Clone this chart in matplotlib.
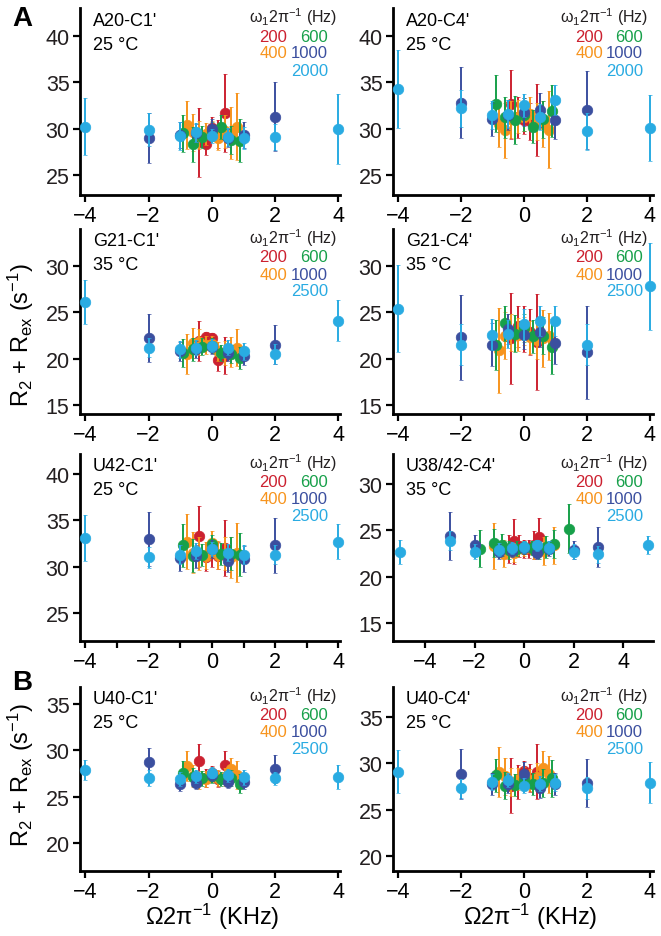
import matplotlib
matplotlib.use('Agg')
import matplotlib.pyplot as plt
from matplotlib.ticker import FixedLocator

plt.rcParams['font.family'] = ['Liberation Sans', 'DejaVu Sans']
plt.rcParams['mathtext.fontset'] = 'custom'
plt.rcParams['mathtext.rm'] = 'Liberation Sans'
plt.rcParams['mathtext.it'] = 'Liberation Sans:italic'
plt.rcParams['mathtext.default'] = 'regular'

# ---------------- data ----------------
POWERS = ['200', '400', '600', '1000', 'hi']
COLORS = {'200': '#cc2130', '400': '#f7941d', '600': '#17a04a',
          '1000': '#3b4f9f', 'hi': '#29abe2'}

OFF_200 = [-0.4, -0.2, 0, 0.2, 0.4]
OFF_400 = [-0.8, -0.6, -0.4, -0.2, 0, 0.2, 0.4, 0.6, 0.8]
OFF_600 = [-0.9, -0.6, -0.3, 0, 0.3, 0.6, 0.9]
OFF_1000 = [-2, -1, -0.5, 0, 0.5, 1, 2]
OFF_HI = [-4, -2, -1, -0.5, 0, 0.5, 1, 2, 4]

U38_OFF_200 = [-0.6, -0.4, -0.2, 0, 0.2, 0.4, 0.6]
U38_OFF_400 = [-1.2, -0.8, -0.4, 0, 0.4, 0.8, 1.2]
U38_OFF_600 = [-1.8, -1.2, -0.9, -0.6, -0.3, 0, 0.3, 0.6, 0.9, 1.2, 1.8]
U38_OFF_1000 = [-3, -2, -1, -0.5, 0, 0.5, 1, 2, 3]
U38_OFF_HI = [-5, -3, -2, -1, -0.5, 0, 0.5, 1, 2, 3, 5]

# A20-C1'
A20C1_R200 = [28.5, 28.3, 30.1, 29.4, 31.7]
A20C1_E200 = [3.7, 1.2, 1.2, 1.5, 4.2]
A20C1_R400 = [30.4, 29.6, 29.3, 29.4, 29.8, 29.0, 29.7, 29.5, 30.2]
A20C1_E400 = [2.6, 2.0, 1.5, 1.2, 1.0, 1.3, 1.8, 2.8, 3.6]
A20C1_R600 = [29.5, 28.3, 29.1, 29.7, 30.2, 28.8, 28.7]
A20C1_E600 = [2.0, 1.9, 1.2, 1.0, 1.3, 1.5, 2.3]
A20C1_R1000 = [28.95, 29.3, 29.5, 30.0, 29.0, 29.3, 31.3]
A20C1_E1000 = [2.7, 1.4, 1.0, 1.0, 1.0, 1.4, 3.7]
A20C1_RHI = [30.2, 29.9, 29.2, 29.6, 29.2, 29.1, 29.0, 29.05, 29.95]
A20C1_EHI = [3.1, 1.8, 1.5, 1.0, 0.8, 1.0, 1.2, 1.4, 3.8]

# A20-C4'
A20C4_R200 = [32.6, 31.2, 30.9, 30.8, 30.9]
A20C4_E200 = [3.7, 2.2, 1.5, 2.0, 3.9]
A20C4_R400 = [30.5, 29.8, 31.0, 31.3, 31.2, 31.6, 30.8, 30.5, 29.9]
A20C4_E400 = [2.5, 3.0, 2.0, 1.8, 1.5, 1.8, 2.0, 2.5, 4.1]
A20C4_R600 = [32.7, 31.2, 30.9, 31.5, 30.2, 31.0, 31.9]
A20C4_E600 = [3.1, 2.2, 2.6, 1.8, 1.8, 2.0, 2.8]
A20C4_R1000 = [32.8, 31.0, 31.5, 31.8, 32.0, 30.9, 32.0]
A20C4_E1000 = [3.8, 1.8, 1.6, 1.5, 1.8, 2.0, 4.2]
A20C4_RHI = [34.25, 32.2, 31.5, 31.6, 32.5, 31.2, 33.1, 29.7, 30.06]
A20C4_EHI = [4.2, 2.0, 1.5, 1.5, 1.2, 1.4, 1.6, 2.0, 3.6]

# G21-C1'
G21C1_R200 = [21.9, 22.3, 22.2, 19.9, 20.3]
G21C1_E200 = [2.2, 0.6, 0.6, 1.2, 2.0]
G21C1_R400 = [20.5, 21.7, 21.8, 21.5, 21.6, 20.8, 20.6, 20.7, 21.2]
G21C1_E400 = [2.2, 1.6, 1.4, 1.0, 0.8, 1.0, 1.3, 1.6, 2.0]
G21C1_R600 = [20.6, 21.0, 21.3, 21.4, 20.6, 20.5, 20.1]
G21C1_E600 = [1.5, 1.2, 0.9, 0.8, 0.9, 1.0, 1.2]
G21C1_R1000 = [22.2, 20.8, 21.0, 21.3, 20.6, 20.3, 21.5]
G21C1_E1000 = [2.6, 1.0, 0.9, 0.8, 0.9, 1.0, 2.1]
G21C1_RHI = [26.1, 21.2, 21.0, 21.2, 21.4, 21.2, 20.8, 20.5, 24.1]
G21C1_EHI = [2.4, 1.0, 0.9, 0.8, 0.7, 0.8, 0.9, 1.1, 2.2]

# G21-C4'
G21C4_R200 = [22.2, 23.5, 23.2, 22.9, 21.8]
G21C4_E200 = [4.9, 2.2, 2.5, 2.5, 5.2]
G21C4_R400 = [20.9, 22.5, 22.8, 22.6, 23.0, 22.3, 22.0, 22.2, 22.4]
G21C4_E400 = [4.6, 2.5, 2.0, 1.8, 1.5, 1.8, 2.0, 3.1, 2.5]
G21C4_R600 = [21.5, 23.8, 22.7, 23.3, 22.4, 22.5, 21.3]
G21C4_E600 = [2.7, 1.9, 2.0, 1.5, 1.8, 2.0, 3.0]
G21C4_R1000 = [22.3, 21.5, 23.2, 22.6, 22.9, 21.7, 20.7]
G21C4_E1000 = [4.6, 2.3, 1.6, 1.5, 1.6, 2.3, 5.0]
G21C4_RHI = [25.4, 21.5, 22.6, 22.7, 23.7, 24.1, 24.1, 21.5, 27.8]
G21C4_EHI = [4.7, 2.2, 1.7, 1.5, 1.7, 1.6, 1.6, 2.2, 4.7]

# U42-C1'
U42C1_R200 = [33.3, 31.0, 31.5, 31.2, 32.0]
U42C1_E200 = [3.3, 1.5, 1.5, 1.5, 3.0]
U42C1_R400 = [32.7, 31.5, 31.4, 31.2, 32.6, 31.3, 31.4, 31.0, 31.5]
U42C1_E400 = [3.0, 2.2, 1.8, 1.5, 1.2, 1.5, 1.8, 2.2, 3.2]
U42C1_R600 = [32.3, 31.2, 31.3, 32.4, 31.4, 31.4, 31.3]
U42C1_E600 = [2.3, 1.8, 1.2, 1.0, 1.2, 1.8, 2.3]
U42C1_R1000 = [33.0, 30.9, 31.1, 31.9, 30.6, 30.8, 32.3]
U42C1_E1000 = [2.9, 1.4, 1.2, 1.0, 1.2, 1.4, 3.0]
U42C1_RHI = [33.1, 31.0, 31.3, 31.7, 31.9, 31.5, 31.3, 31.3, 32.7]
U42C1_EHI = [2.5, 1.1, 1.0, 0.9, 0.8, 0.9, 1.0, 1.0, 1.9]

# U38/42-C4'
U38C4_R200 = [23.0, 23.8, 23.3, 23.0, 23.0, 23.4, 24.3]
U38C4_E200 = [1.5, 2.4, 1.2, 1.0, 1.0, 1.5, 2.0]
U38C4_R400 = [23.3, 22.5, 22.6, 23.0, 22.9, 22.8, 23.4]
U38C4_E400 = [2.5, 1.5, 1.0, 0.8, 1.0, 1.5, 2.0]
U38C4_R600 = [23.0, 23.6, 23.4, 22.9, 23.0, 23.2, 23.1, 22.9, 23.2, 23.5, 25.2]
U38C4_E600 = [2.0, 1.5, 1.2, 1.0, 0.8, 0.7, 0.8, 1.0, 1.2, 1.5, 2.6]
U38C4_R1000 = [24.35, 23.4, 22.7, 22.8, 23.1, 22.6, 23.0, 22.9, 23.2]
U38C4_E1000 = [2.6, 1.1, 0.8, 0.7, 0.6, 0.7, 0.8, 1.0, 2.2]
U38C4_RHI = [22.7, 23.9, 22.7, 22.9, 23.1, 23.2, 23.4, 23.1, 22.7, 22.4, 23.4]
U38C4_EHI = [1.3, 1.0, 0.8, 0.7, 0.6, 0.6, 0.6, 0.7, 0.8, 0.9, 1.0]

# U40-C1'
U40C1_R200 = [28.9, 27.0, 27.5, 26.9, 28.4]
U40C1_E200 = [1.8, 1.0, 0.8, 0.9, 1.5]
U40C1_R400 = [28.3, 27.2, 26.8, 26.9, 27.4, 27.0, 27.1, 28.0, 27.3]
U40C1_E400 = [1.6, 1.2, 1.0, 0.9, 0.8, 0.9, 1.0, 1.2, 1.5]
U40C1_R600 = [27.6, 27.1, 27.0, 27.2, 26.9, 27.0, 26.4]
U40C1_E600 = [1.2, 1.0, 0.8, 0.7, 0.8, 0.9, 1.0]
U40C1_R1000 = [28.7, 26.4, 26.5, 27.3, 26.6, 26.6, 28.0]
U40C1_E1000 = [1.6, 0.8, 0.7, 0.6, 0.7, 0.8, 1.5]
U40C1_RHI = [27.85, 27.0, 26.9, 27.2, 27.6, 27.3, 27.1, 27.0, 27.1]
U40C1_EHI = [1.1, 0.9, 0.8, 0.7, 0.6, 0.7, 0.8, 0.7, 1.3]

# U40-C4'
U40C4_R200 = [27.6, 28.0, 29.2, 28.4, 29.1]
U40C4_E200 = [3.0, 1.8, 1.0, 1.5, 3.0]
U40C4_R400 = [29.1, 28.6, 28.0, 28.3, 28.6, 28.2, 28.5, 29.5, 28.8]
U40C4_E400 = [2.7, 2.0, 1.5, 1.2, 1.0, 1.2, 1.5, 1.8, 2.0]
U40C4_R600 = [28.7, 27.6, 27.7, 28.3, 27.8, 27.9, 28.4]
U40C4_E600 = [1.8, 1.5, 1.2, 1.0, 1.2, 1.5, 2.0]
U40C4_R1000 = [28.8, 27.8, 27.8, 28.8, 27.3, 27.8, 27.9]
U40C4_E1000 = [2.7, 1.2, 1.0, 1.3, 1.0, 1.2, 2.6]
U40C4_RHI = [29.1, 27.3, 28.0, 28.2, 27.6, 27.8, 27.9, 27.3, 27.9]
U40C4_EHI = [2.3, 1.0, 0.9, 0.8, 0.8, 0.8, 0.9, 1.2, 2.2]

NAMES = ["A20-C1'", "A20-C4'", "G21-C1'", "G21-C4'",
         "U42-C1'", "U38/42-C4'", "U40-C1'", "U40-C4'"]
TEMPS = ["25 °C", "25 °C", "35 °C", "35 °C", "25 °C", "35 °C", "25 °C", "25 °C"]
HI_LABELS = ['2000', '2000', '2500', '2500', '2500', '2500', '2500', '2500']
X_TICKS = [-4, -2, 0, 2, 4]

STD_OFF = [OFF_200, OFF_400, OFF_600, OFF_1000, OFF_HI]
U38_OFF = [U38_OFF_200, U38_OFF_400, U38_OFF_600, U38_OFF_1000, U38_OFF_HI]

PANEL_DATA = [
    (STD_OFF, [A20C1_R200, A20C1_R400, A20C1_R600, A20C1_R1000, A20C1_RHI],
     [A20C1_E200, A20C1_E400, A20C1_E600, A20C1_E1000, A20C1_EHI]),
    (STD_OFF, [A20C4_R200, A20C4_R400, A20C4_R600, A20C4_R1000, A20C4_RHI],
     [A20C4_E200, A20C4_E400, A20C4_E600, A20C4_E1000, A20C4_EHI]),
    (STD_OFF, [G21C1_R200, G21C1_R400, G21C1_R600, G21C1_R1000, G21C1_RHI],
     [G21C1_E200, G21C1_E400, G21C1_E600, G21C1_E1000, G21C1_EHI]),
    (STD_OFF, [G21C4_R200, G21C4_R400, G21C4_R600, G21C4_R1000, G21C4_RHI],
     [G21C4_E200, G21C4_E400, G21C4_E600, G21C4_E1000, G21C4_EHI]),
    (STD_OFF, [U42C1_R200, U42C1_R400, U42C1_R600, U42C1_R1000, U42C1_RHI],
     [U42C1_E200, U42C1_E400, U42C1_E600, U42C1_E1000, U42C1_EHI]),
    (U38_OFF, [U38C4_R200, U38C4_R400, U38C4_R600, U38C4_R1000, U38C4_RHI],
     [U38C4_E200, U38C4_E400, U38C4_E600, U38C4_E1000, U38C4_EHI]),
    (STD_OFF, [U40C1_R200, U40C1_R400, U40C1_R600, U40C1_R1000, U40C1_RHI],
     [U40C1_E200, U40C1_E400, U40C1_E600, U40C1_E1000, U40C1_EHI]),
    (STD_OFF, [U40C4_R200, U40C4_R400, U40C4_R600, U40C4_R1000, U40C4_RHI],
     [U40C4_E200, U40C4_E400, U40C4_E600, U40C4_E1000, U40C4_EHI]),
]

# ---------------- layout ----------------
W, H = 661, 937
fig = plt.figure(figsize=(W / 100, H / 100), dpi=100)

COLS = [(80, 340), (393, 653)]
ROWS = [(9, 196), (230, 415), (455, 642), (688, 872)]
XLIMS = [(-4.17, 4.05), (-4.16, 4.1), (-4.17, 4.05), (-4.16, 4.1),
         (-4.17, 4.05), (-5.29, 5.2), (-4.17, 4.05), (-4.16, 4.1)]
YLIMS = [(22.84, 43.0), (22.84, 43.0), (14.03, 34.0), (14.03, 34.0),
         (21.98, 42.16), (13.06, 33.24), (16.98, 36.83), (18.38, 38.24)]
YTICKS = [[25, 30, 35, 40], [25, 30, 35, 40], [15, 20, 25, 30], [15, 20, 25, 30],
          [25, 30, 35, 40], [15, 20, 25, 30], [20, 25, 30, 35], [20, 25, 30, 35]]


def fx(p):
    return p / W


def fy(p):
    return 1 - p / H


for i in range(8):
    r, c = divmod(i, 2)
    l, rt = COLS[c]
    t, b = ROWS[r]
    ax = fig.add_axes([fx(l), fy(b), fx(rt - l), (b - t) / H])
    offs, ys, es = PANEL_DATA[i]
    for k, pw in enumerate(POWERS):
        col = COLORS[pw]
        ax.errorbar(offs[k], ys[k], yerr=es[k], fmt='o', color=col, ms=7.6,
                    mec=col, mew=0.5, elinewidth=1.4, capsize=1.3, capthick=2.4,
                    zorder=3 + k, clip_on=False)
    ax.set_xlim(*XLIMS[i])
    ax.set_ylim(*YLIMS[i])
    ax.set_yticks(YTICKS[i])
    ax.set_xticks(X_TICKS)
    ax.set_xticklabels(['\u2212' + str(-v) if v < 0 else str(v) for v in X_TICKS])
    if i == 4:
        ax.xaxis.set_minor_locator(FixedLocator([-3, -1, 1, 3]))
        ax.tick_params(axis='x', which='minor', length=5, width=1.6, direction='out')
    for s in ['top', 'right']:
        ax.spines[s].set_visible(False)
    for s in ['left', 'bottom']:
        ax.spines[s].set_linewidth(2.0)
    ax.tick_params(which='major', length=5, width=1.6, labelsize=15.5, pad=2.5,
                   direction='out', colors='black')
    ax.tick_params(axis='y', labelcolor='#231f20')
    ax.patch.set_alpha(0)

    # panel title
    fig.text(fx(l + 13), fy(t + 12), NAMES[i], fontsize=13, va='center', ha='left')
    fig.text(fx(l + 13), fy(t + 36), TEMPS[i], fontsize=13, va='center', ha='left')

    # legend text
    hdr_r = rt - 3 if c == 0 else rt - 5
    c1_r = rt - 53 if c == 0 else rt - 50
    c2_r = rt - 12 if c == 0 else rt - 10
    fig.text(fx(hdr_r), fy(t + 8), '\u03c9$_1$2\u03c0$^{-1}$ (Hz)', fontsize=11.5,
             ha='right', va='center', color='#231f20')
    fig.text(fx(c1_r), fy(t + 28), '200', fontsize=12, ha='right', va='center', color=COLORS['200'])
    fig.text(fx(c2_r), fy(t + 28), '600', fontsize=12, ha='right', va='center', color=COLORS['600'])
    fig.text(fx(c1_r), fy(t + 45), '400', fontsize=12, ha='right', va='center', color=COLORS['400'])
    fig.text(fx(c2_r), fy(t + 45), '1000', fontsize=12, ha='right', va='center', color=COLORS['1000'])
    fig.text(fx(c2_r), fy(t + 62), HI_LABELS[i], fontsize=12, ha='right', va='center', color=COLORS['hi'])

# panel letters
fig.text(fx(22), fy(19), 'A', fontsize=20, fontweight='bold', ha='center', va='center')
fig.text(fx(22), fy(683), 'B', fontsize=20, fontweight='bold', ha='center', va='center')

# axis labels
ylab = 'R$_2$ + R$_{ex}$ (s$^{-1}$)'
fig.text(fx(21), fy(335), ylab, fontsize=17, rotation=90, ha='center', va='center')
fig.text(fx(21), fy(775), ylab, fontsize=17, rotation=90, ha='center', va='center')
xlab = '\u03a92\u03c0$^{-1}$ (KHz)'
fig.text(fx(212), fy(917), xlab, fontsize=17, ha='center', va='center')
fig.text(fx(530), fy(917), xlab, fontsize=17, ha='center', va='center')

fig.savefig('out.png', dpi=100)
